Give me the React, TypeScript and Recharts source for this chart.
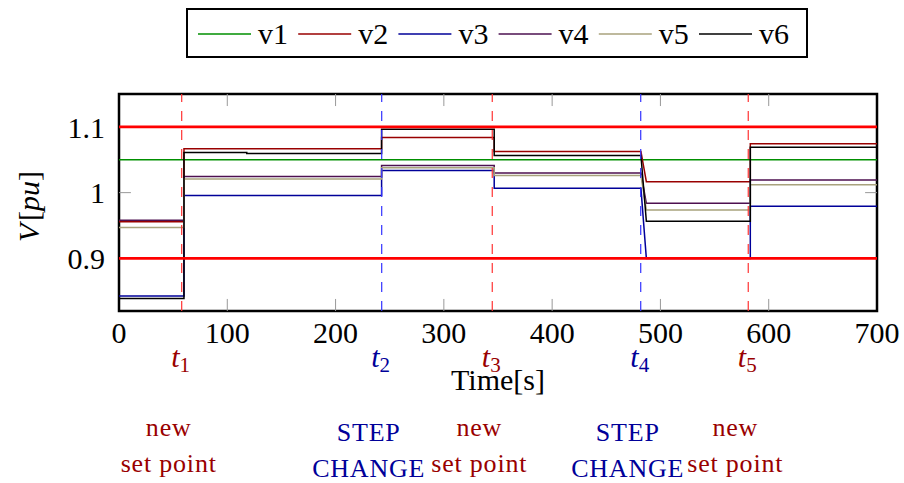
import React from "react";
import {
  LineChart,
  Line,
  XAxis,
  YAxis,
  ReferenceLine,
  ReferenceArea,
  Legend,
} from "recharts";

const FONT = '"Liberation Serif", "Times New Roman", serif';

// sample times (duplicated x = vertical step)
const time = [0, 60, 60, 118, 118, 242.5, 242.5, 346.5, 346.5, 482, 487, 583, 583, 700];
const v1 = [1.05, 1.05, 1.05, 1.05, 1.05, 1.05, 1.05, 1.05, 1.05, 1.05, 1.05, 1.05, 1.05, 1.05];
const v2 = [0.9556, 0.9556, 1.0667, 1.0667, 1.0667, 1.0667, 1.0838, 1.0838, 1.0626, 1.0626, 1.0167, 1.0167, 1.0742, 1.0742];
const v3 = [0.843, 0.843, 0.9955, 0.9955, 0.9955, 0.9955, 1.0338, 1.0338, 1.0065, 1.0065, 0.9, 0.9, 0.9792, 0.9792];
const v4 = [0.958, 0.958, 1.0247, 1.0247, 1.0247, 1.0247, 1.0414, 1.0414, 1.0298, 1.0298, 0.9838, 0.9838, 1.0192, 1.0192];
const v5 = [0.947, 0.947, 1.0208, 1.0208, 1.0208, 1.0208, 1.038, 1.038, 1.0262, 1.0262, 0.9737, 0.9737, 1.0121, 1.0121];
const v6 = [0.839, 0.839, 1.061, 1.061, 1.0596, 1.0596, 1.0965, 1.0965, 1.0565, 1.0565, 0.9565, 0.9565, 1.0692, 1.0692];

const seriesNames = ["v1", "v2", "v3", "v4", "v5", "v6"];
const seriesColors = ["#008f00", "#990000", "#000099", "#4d1050", "#a8a27c", "#000000"];

const xTicks = [0, 100, 200, 300, 400, 500, 600, 700];
const yTicks = [0.9, 1, 1.1];
const limits = [0.9, 1.1];

const eventTimes = [57.9, 242.6, 344.7, 481.8, 581.1];
const eventNames = ["1", "2", "3", "4", "5"];
const eventKinds = ["set", "step", "set", "step", "set"];

const X_DOMAIN = [0, 700];
const Y_DOMAIN = [0.82, 1.15];

const rows = time.map((t, i) => ({
  t,
  v1: v1[i],
  v2: v2[i],
  v3: v3[i],
  v4: v4[i],
  v5: v5[i],
  v6: v6[i],
}));

function LegendBox(props: any) {
  const payload = props.payload || [];
  return (
    <svg width={622} height={50} style={{ display: "block" }}>
      <rect x={1} y={1} width={620} height={48} fill="#fff" stroke="#000" strokeWidth={2} />
      {payload.map((p: any, i: number) => {
        const x0 = 12 + i * 100.2;
        return (
          <g key={p.value}>
            <line x1={x0} x2={x0 + 53} y1={26} y2={26} stroke={p.color} strokeWidth={1.4} />
            <text x={x0 + 60} y={36} fontFamily={FONT} fontSize={30} fill="#000">
              {p.value}
            </text>
          </g>
        );
      })}
    </svg>
  );
}

function eventLabel(i: number) {
  const isStep = eventKinds[i] === "step";
  const color = isStep ? "#000099" : "#990000";
  const lines = isStep ? ["STEP", "CHANGE"] : ["new", "set point"];
  return (props: any) => {
    const vb = props.viewBox;
    const x = vb.x;
    const bottom = vb.y + vb.height;
    return (
      <g fontFamily={FONT} fill={color}>
        <text x={x - 1} y={bottom + 56} textAnchor="middle" fontSize={30}>
          <tspan fontStyle="italic">t</tspan>
          <tspan fontSize={21} dy={5}>
            {eventNames[i]}
          </tspan>
        </text>
        <text x={x - 13} y={bottom + (isStep ? 130 : 125)} textAnchor="middle" fontSize={26} letterSpacing={0.8}>
          {lines[0]}
        </text>
        <text x={x - 13} y={bottom + (isStep ? 166 : 161)} textAnchor="middle" fontSize={26} letterSpacing={0.8}>
          {lines[1]}
        </text>
      </g>
    );
  };
}

function YLabel(props: any) {
  const vb = props.viewBox;
  const cx = vb.x - 79;
  const cy = vb.y + vb.height / 2 + 4;
  return (
    <text
      x={cx}
      y={cy}
      transform={`rotate(-90, ${cx}, ${cy})`}
      textAnchor="middle"
      fontFamily={FONT}
      fontSize={30}
      fill="#000"
    >
      <tspan fontStyle="italic">V</tspan>
      <tspan>{"\u200a["}</tspan>
      <tspan fontStyle="italic">pu</tspan>
      <tspan>]</tspan>
    </text>
  );
}

const xTickLen = 0.0183;
const yTickLen = 11;

export default function App() {
  return (
    <div style={{ position: "absolute", left: 0, top: 0, width: 904, height: 483, background: "#fff" }}>
      <LineChart
        width={904}
        height={483}
        data={rows}
        margin={{ top: 94, right: 27, bottom: 171, left: 118 }}
        style={{ fontFamily: FONT }}
      >
        <XAxis
          dataKey="t"
          type="number"
          domain={X_DOMAIN}
          ticks={xTicks}
          height={1}
          axisLine={false}
          tickLine={false}
          tickSize={0}
          tickMargin={11}
          interval={0}
          tick={{ fontSize: 30, fill: "#000", fontFamily: FONT }}
          label={{ value: "Time[s]", position: "bottom", offset: 57, fontSize: 30, fill: "#000", fontFamily: FONT }}
        />
        <YAxis
          type="number"
          domain={Y_DOMAIN}
          ticks={yTicks}
          width={1}
          axisLine={false}
          tickLine={false}
          tickSize={0}
          tickMargin={14}
          interval={0}
          tick={{ fontSize: 30, fill: "#000", fontFamily: FONT }}
          label={{ content: YLabel }}
        />
        <Legend
          layout="vertical"
          align="center"
          verticalAlign="middle"
          content={LegendBox}
          wrapperStyle={{ top: 8, left: 186, width: 622, height: 50 }}
        />

        {xTicks.slice(1, -1).map((t) => (
          <ReferenceLine
            key={`bt${t}`}
            segment={[{ x: t, y: Y_DOMAIN[0] }, { x: t, y: Y_DOMAIN[0] + xTickLen }]}
            stroke="#999"
            strokeWidth={1}
          />
        ))}
        {xTicks.slice(1, -1).map((t) => (
          <ReferenceLine
            key={`tt${t}`}
            segment={[{ x: t, y: Y_DOMAIN[1] }, { x: t, y: Y_DOMAIN[1] - xTickLen }]}
            stroke="#999"
            strokeWidth={1}
          />
        ))}
        {yTicks.map((v) => (
          <ReferenceLine
            key={`lt${v}`}
            segment={[{ x: X_DOMAIN[0], y: v }, { x: X_DOMAIN[0] + yTickLen, y: v }]}
            stroke="#999"
            strokeWidth={1}
          />
        ))}
        {yTicks.map((v) => (
          <ReferenceLine
            key={`rt${v}`}
            segment={[{ x: X_DOMAIN[1], y: v }, { x: X_DOMAIN[1] - yTickLen, y: v }]}
            stroke="#999"
            strokeWidth={1}
          />
        ))}

        {seriesNames.map((name, i) => (
          <Line
            key={name}
            dataKey={name}
            type="linear"
            stroke={seriesColors[i]}
            strokeWidth={1.5}
            dot={false}
            activeDot={false}
            isAnimationActive={false}
          />
        ))}

        {limits.map((v) => (
          <ReferenceLine key={`lim${v}`} y={v} stroke="#ff0000" strokeWidth={2.6} />
        ))}
        {eventTimes.map((t, i) => (
          <ReferenceLine
            key={`ev${i}`}
            x={t}
            stroke={eventKinds[i] === "step" ? "#3333ff" : "#ff3333"}
            strokeWidth={1.2}
            strokeDasharray="10 9"
            label={eventLabel(i)}
          />
        ))}

        <ReferenceArea
          x1={X_DOMAIN[0]}
          x2={X_DOMAIN[1]}
          y1={Y_DOMAIN[0]}
          y2={Y_DOMAIN[1]}
          fill="none"
          stroke="#000"
          strokeWidth={2.5}
        />
      </LineChart>
    </div>
  );
}
